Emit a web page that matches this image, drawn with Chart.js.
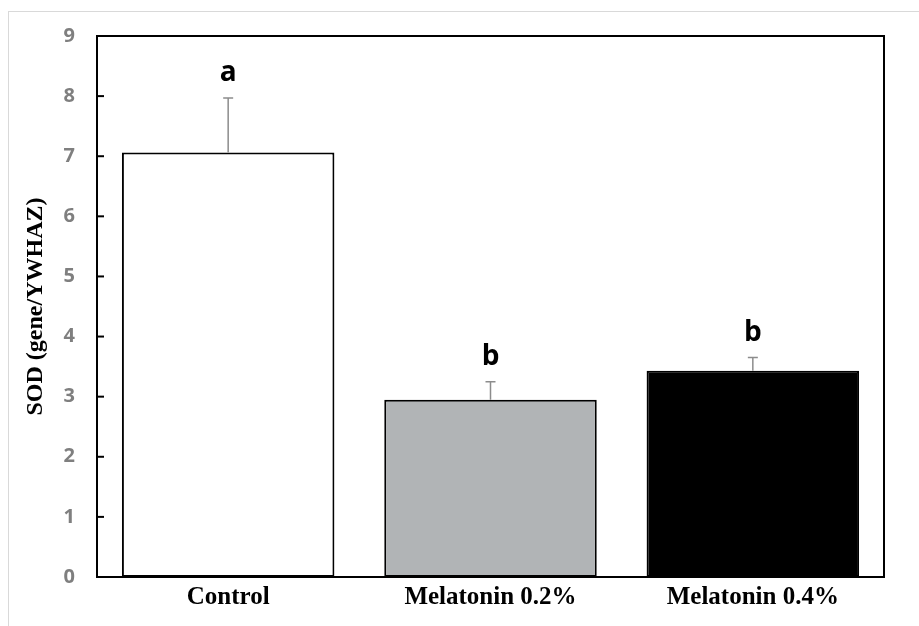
<!DOCTYPE html>
<html lang="en">
<head>
  <meta charset="UTF-8" />
  <title>SOD (gene/YWHAZ)</title>
  <script src="https://cdn.jsdelivr.net/npm/chart.js"></script>
  <style>
    body {
      margin: 0;
      background: #ffffff;
    }
    #wrap {
      position: relative;
      width: 919px;
      height: 626px;
    }
    #frame {
      position: absolute;
      left: 8px;
      top: 11px;
      right: 0;
      bottom: 0;
      border-top: 1px solid #d9d9d9;
      border-left: 1px solid #d9d9d9;
      pointer-events: none;
    }
    canvas {
      position: absolute;
      left: 0;
      top: 0;
    }
  </style>
</head>
<body>
  <div id="wrap">
    <div id="frame"></div>
    <canvas id="sod-chart" width="919" height="626"></canvas>
  </div>

  <script>
    const groups = ["Control", "Melatonin 0.2%", "Melatonin 0.4%"];
    const sodValues = [7.06, 2.95, 3.43];
    const sodErrors = [0.91, 0.30, 0.22];
    const sigLetters = ["a", "b", "b"];
    const barColors = ["#ffffff", "#b1b4b6", "#000000"];
    const yTicks = [0, 1, 2, 3, 4, 5, 6, 7, 8, 9];

    // error bars, letters, plot frame and inner y ticks
    const extras = {
      id: "extras",
      afterDatasetsDraw(chart) {
        const { ctx, chartArea: area, scales: { x, y } } = chart;
        ctx.save();

        ctx.strokeStyle = "#000";
        ctx.lineWidth = 2;
        ctx.beginPath();
        ctx.moveTo(area.left, area.top);
        ctx.lineTo(area.right, area.top);
        ctx.lineTo(area.right, area.bottom);
        ctx.stroke();

        yTicks.forEach(t => {
          const py = y.getPixelForValue(t);
          ctx.beginPath();
          ctx.moveTo(area.left, py);
          ctx.lineTo(area.left + 7, py);
          ctx.stroke();
        });

        sodValues.forEach((v, i) => {
          const px = x.getPixelForValue(i);
          const top = y.getPixelForValue(v + sodErrors[i]);
          const base = y.getPixelForValue(v);
          ctx.strokeStyle = "#8c8c8c";
          ctx.lineWidth = 1.5;
          ctx.beginPath();
          ctx.moveTo(px, base);
          ctx.lineTo(px, top);
          ctx.moveTo(px - 5, top);
          ctx.lineTo(px + 5, top);
          ctx.stroke();

          ctx.fillStyle = "#000";
          ctx.font = "bold 28px 'Open Sans', sans-serif";
          ctx.textAlign = "center";
          ctx.textBaseline = "alphabetic";
          ctx.fillText(sigLetters[i], px, top - 17);
        });

        ctx.restore();
      }
    };

    new Chart(document.getElementById("sod-chart"), {
      type: "bar",
      data: {
        labels: groups,
        datasets: [{
          data: sodValues,
          backgroundColor: barColors,
          borderColor: "#000000",
          borderWidth: 2,
          borderSkipped: false,
          categoryPercentage: 0.81,
          barPercentage: 1
        }]
      },
      options: {
        responsive: false,
        animation: false,
        layout: { padding: { top: 36, right: 35, left: 0, bottom: 0 } },
        plugins: {
          legend: { display: false },
          tooltip: { enabled: false }
        },
        scales: {
          x: {
            grid: { display: false, drawTicks: false },
            border: { display: true, color: "#000", width: 2 },
            ticks: {
              color: "#000",
              padding: 6,
              font: { family: "'Liberation Serif', serif", size: 25, weight: "bold" }
            },
            afterFit(scale) { scale.height = 49; }
          },
          y: {
            min: 0,
            max: 9,
            grid: { display: false, drawTicks: false },
            border: { display: true, color: "#000", width: 2 },
            afterBuildTicks(scale) {
              scale.ticks = yTicks.map(v => ({ value: v }));
            },
            ticks: {
              color: "#7f7f7f",
              padding: 22,
              font: { family: "'Open Sans', sans-serif", size: 20, weight: "bold" }
            },
            title: {
              display: true,
              text: "SOD (gene/YWHAZ)",
              color: "#000",
              padding: { top: 21, bottom: 0 },
              font: { family: "'Liberation Serif', serif", size: 24, weight: "bold" }
            },
            afterFit(scale) { scale.width = 97; }
          }
        }
      },
      plugins: [extras]
    });
  </script>
</body>
</html>
